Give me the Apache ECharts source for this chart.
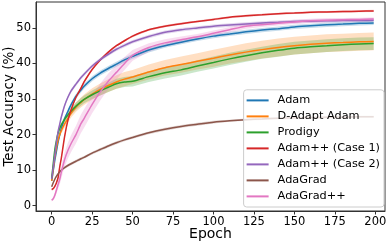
<!DOCTYPE html>
<html><head><meta charset="utf-8">
<script src="https://cdn.jsdelivr.net/npm/echarts@6/dist/echarts.min.js"></script>
<style>html,body{margin:0;padding:0;background:#fff}#c{width:390px;height:242px}</style>
</head><body><div id="c"></div>
<script>
var epochs = [0,1,2,3,4,5,6,8,10,12,15,18,20,25,30,35,40,45,50,60,70,80,90,100,110,120,130,140,150,160,170,180,190,199];
var names = ['Adam','D-Adapt Adam','Prodigy','Adam++ (Case 1)','Adam++ (Case 2)','AdaGrad','AdaGrad++'];
var adam     = [7,10,13,15.5,18,20,21.8,24.5,26.5,28.4,30.8,32.5,33.6,35.7,37.3,38.6,39.8,41,42,43.8,45,46,46.9,47.7,48.3,48.9,49.4,49.8,50.3,50.6,50.9,51.1,51.3,51.4];
var dadapt   = [7,10.5,14,16.5,18.5,20,21.2,23,24.5,26,27.7,29,29.8,31.4,32.7,33.8,34.8,35.6,36.2,37.6,38.8,39.7,40.6,41.5,42.4,43.2,43.9,44.5,45,45.4,45.7,45.9,46.1,46.2];
var prodigy  = [7.7,12,16,18.5,20.5,21.8,22.8,24.3,25.5,26.6,28,29.2,29.9,31.2,32.3,33.3,34.3,34.8,35,36.3,37.4,38.2,39.3,40.3,41.3,42.2,43,43.7,44.3,44.7,45,45.3,45.5,45.6];
var adampp1  = [4.5,4.8,5.5,6.5,8,11,13.5,19.5,24,27,30.5,33,34.8,38.3,41,43.2,45,46.4,47.7,49.5,50.5,51.2,51.8,52.4,53,53.4,53.7,54,54.2,54.4,54.5,54.6,54.7,54.8];
var adampp2  = [7.5,11,14.5,18,21,23,25,28.2,30.5,32.3,34.2,36,37,39.3,41.1,42.6,44,45.1,46.1,47.6,48.8,49.5,50,50.5,50.8,51.1,51.4,51.6,51.8,51.9,52,52.1,52.1,52.2];
var adagrad  = [5.3,6.5,7.5,8.3,9,9.5,10,10.7,11.3,11.8,12.5,13.2,13.6,14.8,15.8,16.8,17.7,18.5,19.2,20.5,21.5,22.3,22.9,23.5,23.9,24.2,24.4,24.6,24.7,24.8,24.9,24.9,25,25];
var adagradpp= [1.5,2,3,4.5,6,7.5,9.5,13,15.5,17.5,20,23,24.5,28.5,32,35,37.5,40,42.3,44.5,45.8,46.7,47.5,48.5,49.5,50.5,50.9,51.3,51.7,52,52.2,52.3,52.4,52.5];
var stdAdam   = [0.3,0.4,0.5,0.5,0.5,0.5,0.5,0.6,0.6,0.7,0.7,0.7,0.7,0.7,0.7,0.7,0.7,0.7,0.7,0.7,0.6,0.6,0.6,0.6,0.6,0.6,0.6,0.6,0.6,0.6,0.6,0.6,0.6,0.6];
var stdDadapt = [0.3,0.4,0.5,0.6,0.7,0.8,0.9,1,1.1,1.2,1.3,1.4,1.5,1.6,1.7,1.8,1.9,2,2,2.1,2.2,2.3,2.3,2.4,2.4,2.5,2.5,2.5,2.5,2.5,2.5,2.5,2.5,2.5];
var stdProdigy= [0.3,0.4,0.5,0.6,0.6,0.7,0.7,0.8,0.9,1,1,1.1,1.1,1.2,1.3,1.3,1.4,1.4,1.5,1.5,1.6,1.6,1.6,1.7,1.7,1.7,1.7,1.8,1.8,1.8,1.8,1.8,1.8,1.8];
var stdCase1  = [0.3,0.3,0.3,0.4,0.5,0.5,0.5,0.5,0.5,0.4,0.4,0.4,0.4,0.3,0.3,0.3,0.3,0.3,0.3,0.3,0.3,0.3,0.3,0.3,0.3,0.3,0.3,0.3,0.3,0.3,0.3,0.3,0.3,0.3];
var stdCase2  = [0.3,0.4,0.5,0.5,0.5,0.5,0.5,0.5,0.5,0.5,0.5,0.5,0.5,0.5,0.5,0.5,0.5,0.5,0.5,0.5,0.5,0.5,0.5,0.5,0.5,0.5,0.5,0.5,0.5,0.5,0.5,0.5,0.5,0.5];
var stdAdagrad= [0.2,0.3,0.3,0.3,0.3,0.3,0.4,0.4,0.4,0.4,0.4,0.4,0.4,0.4,0.4,0.4,0.4,0.4,0.4,0.4,0.4,0.4,0.4,0.4,0.3,0.3,0.3,0.3,0.3,0.3,0.3,0.3,0.3,0.3];
var stdPP     = [0.3,0.5,0.8,1,1.2,1.5,1.8,2,2.2,2.4,2.5,2.6,2.6,2.5,2.4,2.2,2,1.8,1.5,1.2,1,0.9,0.8,0.8,0.7,0.7,0.6,0.6,0.6,0.6,0.6,0.5,0.5,0.5];
var xTicks = [0,25,50,75,100,125,150,175,200];
var yTicks = [0,10,20,30,40,50];

var colors = ['#1f77b4','#ff7f0e','#2ca02c','#d62728','#9467bd','#8c564b','#e377c2'];
var means = [adam,dadapt,prodigy,adampp1,adampp2,adagrad,adagradpp];
var stds = [stdAdam,stdDadapt,stdProdigy,stdCase1,stdCase2,stdAdagrad,stdPP];
var FONT = 'DejaVu Sans';

function bandSeries(i){
  var m = means[i], s = stds[i];
  var data = epochs.map(function(e,k){ return [e, m[k]-s[k], m[k]+s[k]]; });
  return {
    type:'custom', silent:true, z:1, clip:true,
    data:data,
    encode:{x:0,y:[1,2]},
    renderItem:function(params, api){
      if (params.dataIndex !== 0) return null;
      var pts = [];
      for (var k=0;k<data.length;k++) pts.push(api.coord([data[k][0], data[k][2]]));
      for (var k=data.length-1;k>=0;k--) pts.push(api.coord([data[k][0], data[k][1]]));
      return {type:'polygon', shape:{points:pts}, style:{fill:colors[i], opacity:0.25}};
    }
  };
}
function lineSeries(i){
  return {
    name:names[i], type:'line', z:3, showSymbol:false, symbol:'none', smooth:0.2,
    data: epochs.map(function(e,k){ return [e, means[i][k]]; }),
    lineStyle:{color:colors[i], width:1.5}, itemStyle:{color:colors[i]}
  };
}
var series = [];
for (var i=0;i<7;i++) series.push(bandSeries(i));
for (var i=0;i<7;i++) series.push(lineSeries(i));

var chart = echarts.init(document.getElementById('c'), null, {renderer:'canvas'});
chart.setOption({
  animation:false,
  color:colors,
  grid:{left:36, right:5, top:2, bottom:31, show:true, borderColor:'#333', borderWidth:1, backgroundColor:'transparent', containLabel:false, outerBoundsMode:'none'},
  xAxis:{type:'value', min:-9.7, max:206, splitLine:{show:false},
    name:'Epoch', nameLocation:'middle', nameGap:16, nameMoveOverlap:false,
    nameTextStyle:{fontFamily:FONT, fontSize:14, color:'#000'},
    axisLine:{show:true, onZero:false, lineStyle:{color:'#333'}},
    axisTick:{show:true, length:3.5, lineStyle:{color:'#333'}, customValues:xTicks},
    axisLabel:{fontFamily:FONT, fontSize:11.5, color:'#000', margin:5, customValues:xTicks}
  },
  yAxis:{type:'value', min:-1.5, max:57.3, splitLine:{show:false},
    name:'Test Accuracy (%)', nameLocation:'middle', nameGap:20, nameMoveOverlap:false,
    nameTextStyle:{fontFamily:FONT, fontSize:13.5, color:'#000'},
    axisLine:{show:true, onZero:false, lineStyle:{color:'#333'}},
    axisTick:{show:true, length:3.5, lineStyle:{color:'#333'}, customValues:yTicks},
    axisLabel:{fontFamily:FONT, fontSize:11.5, color:'#000', margin:5, customValues:yTicks}
  },
  legend:{orient:'vertical', right:6, bottom:35, data:names,
    icon:'rect', itemWidth:22, itemHeight:2, itemGap:2.8,
    backgroundColor:'rgba(255,255,255,0.8)', borderColor:'#ccc', borderWidth:1, borderRadius:3,
    padding:[4,4,4,3],
    textStyle:{fontFamily:FONT, fontSize:11.3, color:'#000', lineHeight:13.2, padding:[0,0,0,4]}
  },
  series:series
});
</script></body></html>
